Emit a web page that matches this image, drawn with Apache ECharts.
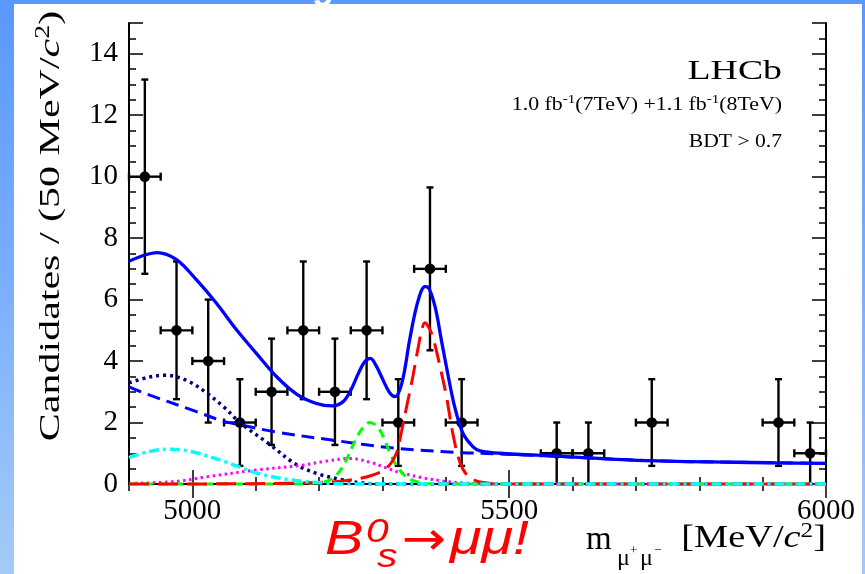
<!DOCTYPE html>
<html>
<head>
<meta charset="utf-8">
<script src="https://cdn.jsdelivr.net/npm/echarts@6/dist/echarts.min.js"></script>
<style>
  html, body { margin: 0; padding: 0; width: 865px; height: 574px; overflow: hidden; }
  body { background: linear-gradient(to bottom, #5a98ff 0%, #78acff 45%, #a4cbf5 100%); position: relative; }
  #panel { position: absolute; left: 14px; top: 4px; width: 848px; height: 570px; background: #ffffff; }
  #chart { position: absolute; left: 0; top: 0; width: 865px; height: 574px; }
</style>
</head>
<body>
<div id="panel"></div>
<div id="chart"></div>
<script>
// Dimuon invariant mass, 50 MeV bins (only non-empty bins are plotted)
const binCenters = [4925, 4975, 5025, 5075, 5125, 5175, 5225, 5275, 5325, 5375, 5425, 5575, 5625, 5725, 5925, 5975];
const candidates = [10, 5, 4, 2, 3, 5, 3, 5, 2, 7, 2, 1, 1, 2, 2, 1];
const candErrors = [3.16, 2.24, 2.0, 1.41, 1.73, 2.24, 1.73, 2.24, 1.41, 2.65, 1.41, 1.0, 1.0, 1.41, 1.41, 1.0];
const binHalfWidth = 25;

// Axis tick labels
const xTickLabels = [5000, 5500, 6000];
const yTickLabels = [0, 2, 4, 6, 8, 10, 12, 14];

// Fit model components: [mass, candidates per bin]
const totalFit = [[4900,7.25],[4925,7.45],[4944,7.53],[4975,7.3],[5007,6.63],[5038,5.88],[5070,5.01],[5101,4.25],[5133,3.49],[5165,2.92],[5196,2.62],[5220,2.54],[5238,2.68],[5250,3.05],[5262,3.6],[5272,3.98],[5281,4.09],[5290,3.85],[5301,3.38],[5312,2.95],[5320,2.84],[5328,3.1],[5335,3.7],[5343,4.7],[5356,5.95],[5367,6.42],[5372,6.4],[5383,5.77],[5393,4.68],[5404,3.49],[5414,2.51],[5427,1.65],[5443,1.21],[5454,1.08],[5485,1.0],[5575,0.91],[5722,0.76],[5922,0.69],[6000,0.67]];
const combinatorial = [[4900,3.16],[4925,2.95],[4999,2.41],[5051,2.03],[5075,1.93],[5130,1.70],[5220,1.43],[5322,1.16],[5427,1.02],[5485,0.98],[5575,0.9],[5722,0.76],[5922,0.69],[6000,0.67]];
const misIdBkg = [[4900,3.29],[4930,3.47],[4957,3.54],[4990,3.38],[5020,3.0],[5050,2.5],[5075,2.0],[5120,1.32],[5165,0.62],[5200,0.32],[5238,0.13],[5270,0.03],[5300,0],[6000,0]];
const semilepBkg = [[4900,0.86],[4930,1.05],[4961,1.13],[4999,1.05],[5051,0.73],[5103,0.35],[5157,0.13],[5209,0.03],[5250,0],[6000,0]];
const peakingBkg = [[4900,0.02],[4973,0.08],[5025,0.24],[5103,0.46],[5170,0.6],[5210,0.74],[5249,0.83],[5285,0.68],[5301,0.56],[5327,0.38],[5364,0.2],[5395,0.1],[5430,0.03],[5470,0],[6000,0]];
const bdSignal = [[4900,0],[5150,0],[5200,0.04],[5217,0.13],[5230,0.35],[5241,0.7],[5259,1.5],[5270,1.85],[5280,2.0],[5290,1.9],[5300,1.6],[5312,1.0],[5322,0.6],[5335,0.28],[5350,0.1],[5370,0.02],[5400,0],[6000,0]];
const bsSignal = [[4900,0],[5100,0.01],[5200,0.05],[5238,0.1],[5280,0.26],[5306,0.51],[5322,1.0],[5330,1.7],[5338,2.5],[5348,3.5],[5356,4.4],[5362,5.0],[5367,5.25],[5373,5.1],[5380,4.75],[5390,3.9],[5401,2.85],[5411,1.65],[5422,0.72],[5433,0.3],[5448,0.1],[5470,0.02],[5500,0],[6000,0]];

const SERIF = 'Liberation Serif';
const chart = echarts.init(document.getElementById('chart'), null, { renderer: 'canvas' });

function curve(name, data, color, width, dash, z) {
  return {
    name, type: 'line', data, smooth: 0.35, showSymbol: false, clip: false, z,
    lineStyle: { color, width, type: dash, cap: 'butt' },
    emphasis: { disabled: true }, silent: true, animation: false
  };
}

function renderPoint(params, api) {
  const m = api.value(0), n = api.value(1), e = api.value(2);
  const p = api.coord([m, n]);
  const hi = api.coord([m, n + e]);
  const lo = api.coord([m, Math.max(0, n - e)]);
  const l = api.coord([m - binHalfWidth, n]);
  const r = api.coord([m + binHalfWidth, n]);
  const st = { stroke: '#000', lineWidth: 2.4 };
  const cap = 3.5;
  const kids = [
    { type: 'line', shape: { x1: p[0], y1: hi[1], x2: p[0], y2: lo[1] }, style: st },
    { type: 'line', shape: { x1: l[0], y1: p[1], x2: r[0], y2: p[1] }, style: st },
    { type: 'line', shape: { x1: p[0] - cap, y1: hi[1], x2: p[0] + cap, y2: hi[1] }, style: st },
    { type: 'line', shape: { x1: l[0], y1: p[1] - 4, x2: l[0], y2: p[1] + 4 }, style: st },
    { type: 'line', shape: { x1: r[0], y1: p[1] - 4, x2: r[0], y2: p[1] + 4 }, style: st },
    { type: 'circle', shape: { cx: p[0], cy: p[1], r: 5.3 }, style: { fill: '#000' } }
  ];
  if (n - e > 0) kids.push({ type: 'line', shape: { x1: p[0] - cap, y1: lo[1], x2: p[0] + cap, y2: lo[1] }, style: st });
  return { type: 'group', children: kids };
}

const frameLine = { show: true, lineStyle: { color: '#000', width: 2 } };
const noLine = { show: false };
const tickStyle = { color: '#000', width: 1.5 };

function xAxisDef(position, withLabels, longTicks) {
  return {
    type: 'value', min: 4900, max: 6000, interval: 100, position,
    axisLine: longTicks ? noLine : frameLine,
    splitLine: { show: false },
    axisTick: longTicks
      ? { show: true, inside: true, length: 14, customValues: xTickLabels, lineStyle: tickStyle }
      : { show: true, inside: true, length: 7, lineStyle: tickStyle },
    axisLabel: withLabels
      ? { show: true, color: '#000', fontFamily: SERIF, fontSize: 29, margin: 13,
          formatter: v => (xTickLabels.indexOf(v) >= 0 ? String(v) : '') }
      : { show: false }
  };
}
function yAxisDef(position, withLabels, longTicks) {
  return {
    type: 'value', min: 0, max: 15, interval: longTicks ? 2 : 0.5, position,
    axisLine: longTicks ? noLine : frameLine,
    splitLine: { show: false },
    axisTick: { show: true, inside: true, length: longTicks ? 14 : 7, lineStyle: tickStyle },
    axisLabel: withLabels
      ? { show: true, color: '#000', fontFamily: SERIF, fontSize: 29, margin: 11,
          formatter: v => (yTickLabels.indexOf(v) >= 0 ? String(v) : '') }
      : { show: false }
  };
}

function redText(text, x, y, size, family, italic, sx) {
  return { type: 'text', x, y, scaleX: sx, silent: true,
    style: { text, font: (italic ? 'italic ' : '') + size + 'px "' + family + '"', fill: '#ff0000', verticalAlign: 'middle' } };
}
function serifText(text, x, y, size) {
  return { type: 'text', x, y, silent: true,
    style: { text, font: size + 'px "Liberation Serif"', fill: '#000', verticalAlign: 'middle' } };
}

const option = {
  backgroundColor: 'transparent',
  animation: false,
  grid: { left: 129, right: 39, top: 23, bottom: 90, containLabel: false },
  xAxis: [
    xAxisDef('bottom', true, false),
    xAxisDef('bottom', false, true),
    xAxisDef('top', false, false),
    xAxisDef('top', false, true)
  ],
  yAxis: [
    yAxisDef('left', false, false),
    yAxisDef('left', true, true),
    yAxisDef('right', false, false),
    yAxisDef('right', false, true)
  ],
  series: [
    {
      name: 'Data', type: 'custom', renderItem: renderPoint, z: 3,
      data: binCenters.map((m, i) => [m, candidates[i], candErrors[i]]),
      encode: { x: 0, y: 1 }, silent: true, animation: false
    },
    curve('Total', totalFit, '#0000ff', 3.3, 'solid', 4),
    curve('Combinatorial', combinatorial, '#0000ff', 3, [13, 7], 5),
    curve('Misidentified', misIdBkg, '#00007f', 3.5, [3, 4], 6),
    curve('Peaking', peakingBkg, '#ff00ff', 3, [2.5, 3.5], 7),
    curve('Bd', bdSignal, '#00ff00', 3, [9, 6], 8),
    curve('Bs', bsSignal, '#ff0000', 3, [20, 9], 9),
    curve('Semileptonic', semilepBkg, '#00ffff', 3.5, [10, 4, 3, 4], 10)
  ],
  graphic: [
    { type: 'text', x: 312, y: -30, silent: true,
      style: { text: 'g', font: 'bold 36px "Liberation Sans"', fill: '#ffffff' } },
    { type: 'text', x: 51, y: 226, rotation: Math.PI / 2, scaleX: 1.4, silent: true,
      style: {
        text: '{n|Candidates / (50 MeV/}{i|c}{s|2}{n|)}',
        align: 'center', verticalAlign: 'middle',
        rich: {
          n: { font: '30px "Liberation Serif"', fill: '#000', lineHeight: 34 },
          i: { font: 'italic 30px "Liberation Serif"', fill: '#000', lineHeight: 34 },
          s: { font: '20px "Liberation Serif"', fill: '#000', lineHeight: 34, verticalAlign: 'top' }
        }
      } },
    { type: 'text', x: 782, y: 86, scaleX: 1.35, silent: true,
      style: { text: 'LHCb', font: '28px "Liberation Serif"', fill: '#000', align: 'right', verticalAlign: 'bottom' } },
    { type: 'text', x: 782, y: 117, scaleX: 1.15, silent: true,
      style: {
        text: '{n|1.0 fb}{s|-1}{n|(7TeV) +1.1 fb}{s|-1}{n|(8TeV)}',
        align: 'right', verticalAlign: 'bottom',
        rich: {
          n: { font: '19px "Liberation Serif"', fill: '#000', lineHeight: 24 },
          s: { font: '13px "Liberation Serif"', fill: '#000', lineHeight: 24, verticalAlign: 'top' }
        }
      } },
    { type: 'text', x: 782, y: 151, scaleX: 1.2, silent: true,
      style: { text: 'BDT > 0.7', font: '18px "Liberation Serif"', fill: '#000', align: 'right', verticalAlign: 'bottom' } },
    // x-axis title: m_{mu+ mu-} [MeV/c^2]
    serifText('m', 586, 540, 33),
    serifText('\u03bc', 617, 559, 24),
    serifText('+', 630, 551, 13),
    serifText('\u03bc', 640, 559, 24),
    serifText('\u2212', 654, 551, 13),
    { type: 'text', x: 826, y: 539, scaleX: 1.2, silent: true,
      style: {
        text: '{n|[MeV/}{i|c}{s|2}{n|]}',
        align: 'right', verticalAlign: 'middle',
        rich: {
          n: { font: '32px "Liberation Serif"', fill: '#000', lineHeight: 36 },
          i: { font: 'italic 32px "Liberation Serif"', fill: '#000', lineHeight: 36 },
          s: { font: '21px "Liberation Serif"', fill: '#000', lineHeight: 36, verticalAlign: 'top' }
        }
      } },
    // B0s -> mu mu !
    redText('B', 325, 541, 48, 'Liberation Sans', true, 1.2),
    redText('0', 366, 533, 34, 'Liberation Sans', true, 1.2),
    redText('s', 377, 558, 34, 'Liberation Sans', true, 1.2),
    redText('\u2192', 402, 542, 46, 'DejaVu Sans', false, 1.15),
    redText('\u03bc\u03bc!', 450, 541, 48, 'Liberation Sans', true, 1.2)
  ]
};
chart.setOption(option);
</script>
</body>
</html>
